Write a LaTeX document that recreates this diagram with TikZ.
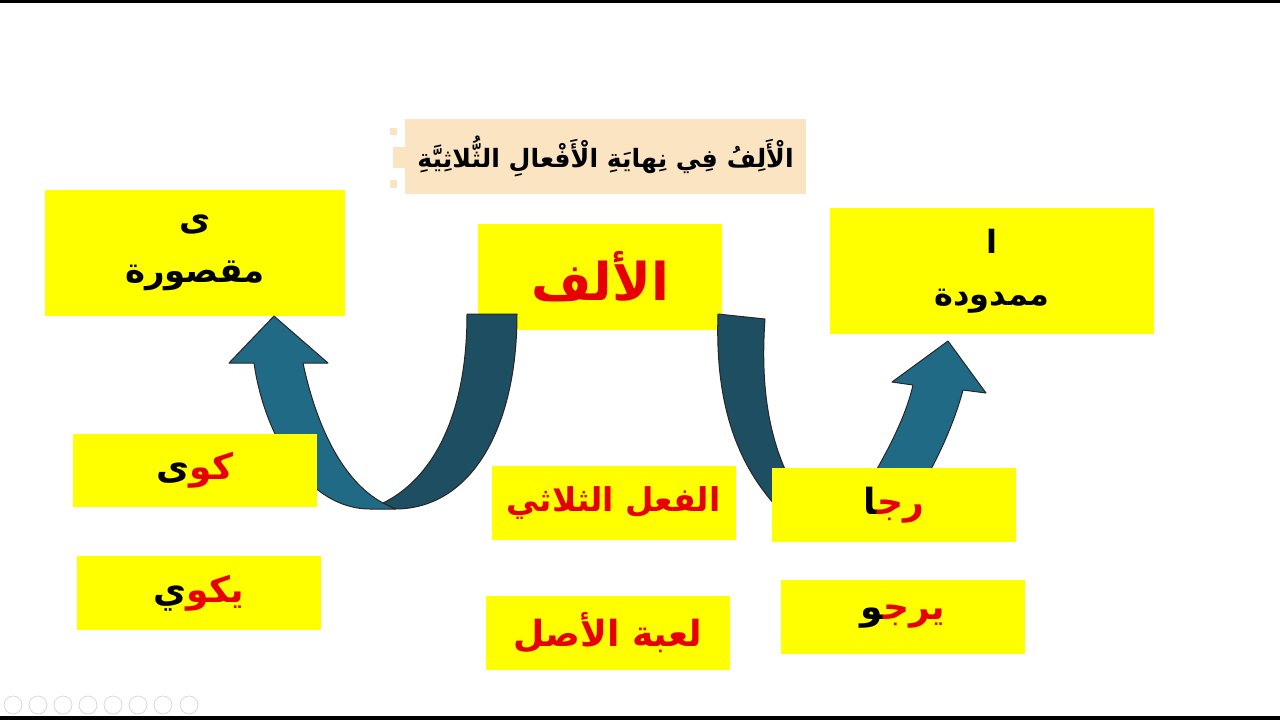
\documentclass[tikz,border=0pt]{standalone}
\usepackage{fontspec}
\newfontfamily\arabicfont[Script=Arabic]{DejaVu Sans}
\TeXXeTstate=1
\definecolor{boxyellow}{RGB}{255,255,0}
\definecolor{titlebg}{RGB}{251,228,194}
\definecolor{arrdark}{RGB}{30,78,98}
\definecolor{arrlight}{RGB}{33,106,133}
\definecolor{tred}{RGB}{230,0,0}
\newcommand{\zj}{^^^^200d}
\tikzset{
  ybox/.style={fill=boxyellow, draw=none, inner sep=0pt, align=center, font=\arabicfont\bfseries},
  bigbox/.style={ybox, minimum width=150pt, minimum height=63pt, font=\arabicfont\bfseries\fontsize{17}{24}\selectfont},
  smallbox/.style={ybox, minimum width=122pt, minimum height=37pt, font=\arabicfont\bfseries\fontsize{17}{20}\selectfont},
  arrowband/.style={draw=black!85, line width=0.5pt, line join=round},
  ctrl/.style={draw=gray!30, line width=0.4pt}
}
\begin{document}
\begin{tikzpicture}[x=0.5pt, y=-0.5pt]
\useasboundingbox (0,0) rectangle (1280,720);
\fill[white] (0,0) rectangle (1280,720);
\fill[black] (0,0) rectangle (1280,3);
\fill[black] (0,716) rectangle (1280,720);

% title
\fill[titlebg] (390,128) rectangle (397,135);
\fill[titlebg] (393,147) rectangle (405,168);
\fill[titlebg] (390,180) rectangle (397,188);
\node[fill=titlebg, inner sep=0pt, minimum width=200.5pt, minimum height=37.5pt,
      font=\arabicfont\bfseries\fontsize{12.6}{16}\selectfont] (title) at (605.5,156.5)
  {\beginR الْأَلِفُ فِي نِهايَةِ الْأَفْعالِ الثُّلاثِيَّةِ\endR};

% top boxes
\node[bigbox] (maqsura) at (195,253) {\beginR ى\endR\\[2pt]\beginR مقصورة\endR};
\node[bigbox, minimum width=162pt, font=\arabicfont\bfseries\fontsize{16}{24}\selectfont] (mamduda) at (992,271) {\beginR ا\endR\\[2pt]\beginR ممدودة\endR};
\node[ybox, minimum width=122pt, minimum height=53pt, text=tred,
      font=\arabicfont\bfseries\fontsize{26}{30}\selectfont] (alif) at (600,277) {\beginR الألف\endR};

% left U arrow
\path[arrowband, fill=arrdark]
  (467,314) -- (517,314) .. controls (517,430) and (470,509) .. (395,509)
  -- (383,503) .. controls (430,480) and (467,420) .. (467,314) -- cycle;
\path[arrowband, fill=arrlight]
  (229,363) -- (274,316) -- (328,363) -- (303,363)
  .. controls (315,420) and (340,480) .. (383,503) -- (395,509) -- (370,509)
  .. controls (310,509) and (265,440) .. (254,363) -- cycle;

% right arrow
\path[arrowband, fill=arrdark]
  (718,314) -- (765,319) .. controls (760,390) and (770,440) .. (790,480)
  -- (775,505) .. controls (735,460) and (715,400) .. (718,314) -- cycle;
\path[arrowband, fill=arrlight]
  (868,485) .. controls (885,455) and (905,420) .. (913,385)
  -- (892,382) -- (948,341) -- (986,393) -- (963,390)
  .. controls (955,420) and (940,455) .. (922,485) -- cycle;

% small boxes (two-colour words written in visual order, left to right)
\node[smallbox, minimum height=36.5pt, font=\arabicfont\bfseries\fontsize{18}{20}\selectfont] (kawa) at (195,470.5)
  {ى\textcolor{tred}{كو}};
\node[smallbox, font=\arabicfont\bfseries\fontsize{18}{20}\selectfont] (yakwi) at (199,593)
  {ي\textcolor{tred}{يكو}};
\node[smallbox, text=tred, font=\arabicfont\bfseries\fontsize{16.4}{20}\selectfont] (fil) at (613.5,503) {\beginR الفعل الثلاثي\endR};
\node[smallbox, text=tred, font=\arabicfont\bfseries\fontsize{18}{20}\selectfont] (luba) at (608,633) {\beginR لعبة الأصل\endR};
\node[smallbox, font=\arabicfont\bfseries\fontsize{18}{20}\selectfont] (raja) at (894,505)
  {\zj ا\textcolor{tred}{رج\zj}};
\node[smallbox, font=\arabicfont\bfseries\fontsize{18}{20}\selectfont] (yarju) at (903,617)
  {\zj و\textcolor{tred}{يرج\zj}};

% slide-show controls
\foreach \cx in {13,38,63,88,113,138,163,189}
  \draw[ctrl] (\cx,705) circle (4.5pt);
\end{tikzpicture}
\end{document}
